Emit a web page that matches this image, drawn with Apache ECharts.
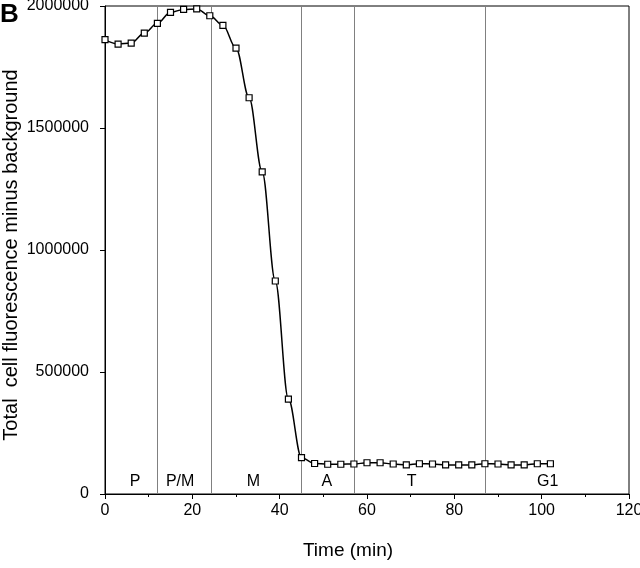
<!DOCTYPE html>
<html>
<head>
<meta charset="utf-8">
<script src="https://cdn.jsdelivr.net/npm/echarts@6/dist/echarts.min.js"></script>
<style>
html,body{margin:0;padding:0;background:#fff;}
#chart{width:640px;height:568px;}
</style>
</head>
<body>
<div id="chart"></div>
<script>
// Data
var times = [0,3,6,9,12,15,18,21,24,27,30,33,36,39,42,45,48,51,54,57,60,63,66,69,72,75,78,81,84,87,90,93,96,99,102];
var fluorescence = [1862000,1844000,1848000,1889000,1929000,1974000,1986000,1988000,1960000,1921000,
  1827000,1624000,1320000,873000,389000,149000,
  125000,122000,122000,123000,128000,128000,123000,119000,124000,123000,119000,119000,119000,124000,123000,119000,119000,124000,124000];
var phaseBoundaries = [12, 24.3, 45, 57, 87];
var phaseNames = ['P','P/M','M','A','T','G1'];
var phaseLabelTimes = [6.9, 17.2, 34, 50.8, 70.2, 101.4];
var phaseLabelValue = 52000;
var xTicks = [0,20,40,60,80,100,120];
var yTicks = [0,500000,1000000,1500000,2000000];
var xTitle = 'Time (min)';
var yTitle = 'Total  cell fluorescence minus background';

var FONT = '"Liberation Sans", Arial, Helvetica, sans-serif';
var chart = echarts.init(document.getElementById('chart'), null, {renderer:'canvas'});

var lineData = times.map(function(t,i){return [t, fluorescence[i]];});
var phaseData = phaseNames.map(function(n,i){return [phaseLabelTimes[i], phaseLabelValue, n];});

chart.setOption({
  animation:false,
  backgroundColor:'#fff',
  grid:{left:105,right:11,top:6,bottom:74,containLabel:false,outerBoundsMode:'none',
    show:true,borderColor:'#000',borderWidth:1,backgroundColor:'transparent'},
  xAxis:{
    type:'value', min:xTicks[0], max:xTicks[xTicks.length-1], interval:20,
    name:xTitle, nameLocation:'middle', nameGap:47,
    nameTextStyle:{fontFamily:FONT,fontSize:19,color:'#000',padding:[0,38,0,0]},
    axisLine:{show:true,onZero:false,lineStyle:{color:'#000',width:1}},
    axisTick:{show:true,inside:false,length:5,lineStyle:{color:'#000'}},
    minorTick:{show:true,splitNumber:2,length:3,lineStyle:{color:'#000'}},
    axisLabel:{fontFamily:FONT,fontSize:16,color:'#000',margin:9},
    splitLine:{show:false}
  },
  yAxis:{
    type:'value', min:yTicks[0], max:yTicks[yTicks.length-1], interval:500000,
    axisLine:{show:true,onZero:false,lineStyle:{color:'#000',width:1}},
    axisTick:{show:true,inside:false,length:5,lineStyle:{color:'#000'}},
    axisLabel:{fontFamily:FONT,fontSize:16,color:'#000',margin:16,formatter:function(v){return String(v);}},
    splitLine:{show:false}
  },
  graphic:[
    {type:'text',left:0,top:2,style:{text:'B',font:'bold 26px '+FONT,fill:'#000'}},
    {type:'text',x:1,y:255,rotation:Math.PI/2,
      style:{text:yTitle,font:'20px '+FONT,fill:'#000',align:'center',verticalAlign:'top'}}
  ],
  series:[
    {
      type:'line', data:[], silent:true,
      markLine:{
        silent:true, symbol:['none','none'],
        label:{show:false},
        lineStyle:{color:'#808080',width:1,type:'solid'},
        data:phaseBoundaries.map(function(b){return {xAxis:b};})
      }
    },
    {
      type:'scatter', data:phaseData, symbolSize:0, silent:true,
      itemStyle:{opacity:1,color:'#000'},
      label:{show:true,position:'inside',fontFamily:FONT,fontSize:16,color:'#000',opacity:1,
        formatter:function(p){return p.value[2];}}
    },
    {
      type:'line', data:lineData, smooth:0.35, smoothMonotone:'x',
      symbol:'rect', symbolSize:6, showAllSymbol:true,
      lineStyle:{color:'#000',width:1.5},
      itemStyle:{color:'#fff',borderColor:'#000',borderWidth:1.2},
      z:5
    }
  ]
});
</script>
</body>
</html>
